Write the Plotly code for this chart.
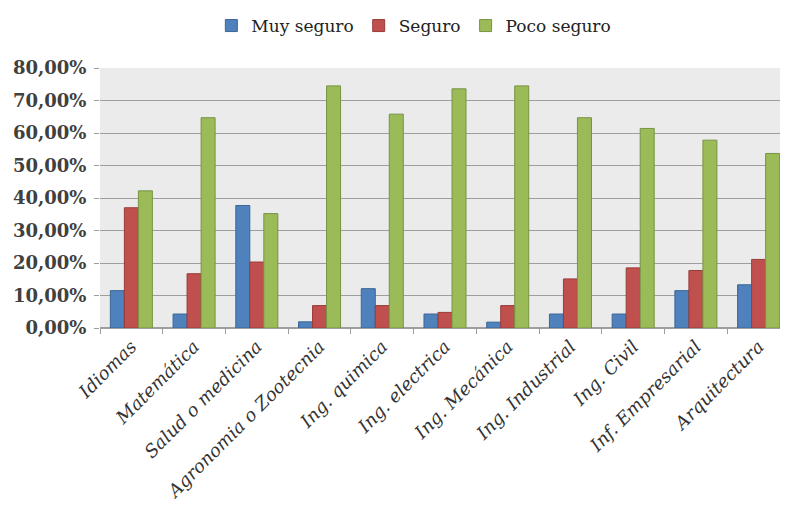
import plotly.graph_objects as go

categories = ["Idiomas", "Matemática", "Salud o medicina", "Agronomia o Zootecnia",
              "Ing. quimica", "Ing. electrica", "Ing. Mecánica", "Ing. Industrial",
              "Ing. Civil", "Inf. Empresarial", "Arquitectura"]
muy_seguro = [0.115, 0.043, 0.377, 0.019, 0.121, 0.043, 0.018, 0.043, 0.043, 0.115, 0.133]
seguro = [0.370, 0.167, 0.203, 0.069, 0.069, 0.048, 0.069, 0.151, 0.185, 0.177, 0.211]
poco_seguro = [0.422, 0.647, 0.352, 0.745, 0.658, 0.736, 0.745, 0.647, 0.614, 0.578, 0.537]

series = [
    ("Muy seguro", muy_seguro, "#4f81bd", "#3a6595"),
    ("Seguro", seguro, "#c0504d", "#973c3a"),
    ("Poco seguro", poco_seguro, "#9bbb59", "#789343"),
]

fig = go.Figure()
for name, vals, color, edge in series:
    fig.add_trace(go.Bar(
        x=categories, y=vals, name=name,
        marker=dict(color=color, line=dict(color=edge, width=1)),
    ))

# page body has an 8px margin, so the figure is shifted by 8px
fig.update_layout(
    width=782, height=500,
    margin=dict(l=92, r=0, t=60, b=180),
    barmode="group", bargap=0.33, bargroupgap=0,
    separators=",.",
    paper_bgcolor="white",
    plot_bgcolor="#ebebeb",
    font=dict(family="DejaVu Serif, serif", size=16, color="#333333"),
    legend=dict(
        orientation="h", xref="container", yref="container",
        x=0.519, xanchor="center", y=1.0, yanchor="top",
        font=dict(size=17, color="#222222"), itemwidth=30,
        traceorder="normal",
    ),
)
fig.update_yaxes(
    range=[0, 0.8], dtick=0.1, tickformat=".2%", automargin=False,
    showgrid=True, gridcolor="#9e9e9e", gridwidth=1,
    ticks="outside", ticklen=5, tickcolor="#9e9e9e", ticklabelstandoff=4,
    showline=False, zeroline=True, zerolinecolor="#9e9e9e",
    tickfont=dict(size=18, color="#404040", family="DejaVu Serif, serif", weight="bold"),
)
fig.update_xaxes(
    tickangle=-45, ticks="outside", tickson="boundaries", ticklen=5, automargin=False,
    tickcolor="#9e9e9e", showline=True, linecolor="#9e9e9e",
    tickvals=categories, ticktext=[f"<i>{c}</i>" for c in categories],
    tickfont=dict(size=18, color="#333333", family="DejaVu Serif, serif"),
)

fig.write_html("out.html")
